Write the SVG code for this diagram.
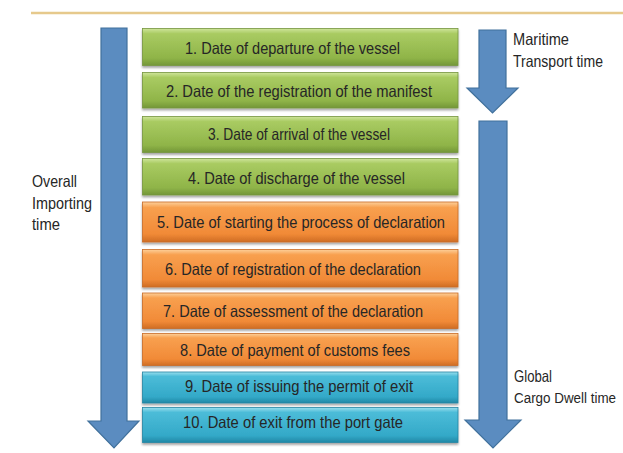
<svg xmlns="http://www.w3.org/2000/svg" width="623" height="453" viewBox="0 0 623 453">
<style>
.box-text{font-family:"Liberation Sans",Arial,sans-serif;font-size:16.5px;fill:#262626;text-anchor:start}
.side{font-family:"Liberation Sans",Arial,sans-serif;font-size:16.5px;fill:#262626}
.arrow{fill:#5b8cc0;stroke:#41719c;stroke-width:1.2}
.green{fill:url(#gGreen);stroke:#76963f;stroke-width:0.8;filter:url(#sh)}
.orange{fill:url(#gOrange);stroke:#c86c26;stroke-width:0.8;filter:url(#sh)}
.blue{fill:url(#gBlue);stroke:#2585a3;stroke-width:0.8;filter:url(#sh)}
</style>
<defs>
<linearGradient id="gGreen" x1="0" y1="0" x2="0" y2="1">
<stop offset="0" stop-color="#cfe59b"/>
<stop offset="0.14" stop-color="#a9cb62"/>
<stop offset="0.8" stop-color="#8fb448"/>
<stop offset="1" stop-color="#739638"/>
</linearGradient>
<linearGradient id="gOrange" x1="0" y1="0" x2="0" y2="1">
<stop offset="0" stop-color="#fdd09a"/>
<stop offset="0.14" stop-color="#f8a04f"/>
<stop offset="0.8" stop-color="#f18a37"/>
<stop offset="1" stop-color="#cf6d24"/>
</linearGradient>
<linearGradient id="gBlue" x1="0" y1="0" x2="0" y2="1">
<stop offset="0" stop-color="#9adfee"/>
<stop offset="0.14" stop-color="#4cbcd8"/>
<stop offset="0.8" stop-color="#33a9c8"/>
<stop offset="1" stop-color="#2188a6"/>
</linearGradient>
<filter id="sh" x="-5%" y="-20%" width="110%" height="150%">
<feDropShadow dx="0" dy="2" stdDeviation="1.3" flood-color="#000" flood-opacity="0.35"/>
</filter>
</defs>
<rect width="623" height="453" fill="#ffffff"/>
<line x1="31" y1="13" x2="623" y2="13" stroke="#e6c98c" stroke-width="2.5"/>

<g id="connectors">
<polygon class="arrow" points="101,28 127,28 127,421 139,421 114,448 88,421 101,421"/>
<polygon class="arrow" points="479,30 506,30 506,88 518,88 492.5,113 467,88 479,88"/>
<polygon class="arrow" points="479,121 507,121 507,420 521,420 493,448 465,420 479,420"/>
</g>

<g id="node1"><rect class="green" x="142.5" y="28.5" width="315.5" height="37"/><text class="box-text" x="185" y="54" textLength="215" lengthAdjust="spacingAndGlyphs">1. Date of departure of the vessel</text></g>
<g id="node2"><rect class="green" x="142.5" y="72.5" width="315.5" height="35.5"/><text class="box-text" x="166" y="97" textLength="266" lengthAdjust="spacingAndGlyphs">2. Date of the registration of the manifest</text></g>
<g id="node3"><rect class="green" x="142.5" y="116.5" width="315.5" height="36"/><text class="box-text" x="208" y="140" textLength="182" lengthAdjust="spacingAndGlyphs">3. Date of arrival of the vessel</text></g>
<g id="node4"><rect class="green" x="142.5" y="158.5" width="315.5" height="36.5"/><text class="box-text" x="188" y="184" textLength="217" lengthAdjust="spacingAndGlyphs">4. Date of discharge of the vessel</text></g>
<g id="node5"><rect class="orange" x="142.5" y="202" width="315.5" height="40"/><text class="box-text" x="157" y="228" textLength="288" lengthAdjust="spacingAndGlyphs">5. Date of starting the process of declaration</text></g>
<g id="node6"><rect class="orange" x="142.5" y="249.5" width="315.5" height="37.5"/><text class="box-text" x="165" y="275" textLength="256" lengthAdjust="spacingAndGlyphs">6. Date of registration of the declaration</text></g>
<g id="node7"><rect class="orange" x="142.5" y="293" width="315.5" height="35.5"/><text class="box-text" x="163" y="317" textLength="260" lengthAdjust="spacingAndGlyphs">7. Date of assessment of the declaration</text></g>
<g id="node8"><rect class="orange" x="142.5" y="333.5" width="315.5" height="32"/><text class="box-text" x="180" y="356" textLength="230" lengthAdjust="spacingAndGlyphs">8. Date of payment of customs fees</text></g>
<g id="node9"><rect class="blue" x="142.5" y="372" width="315.5" height="31"/><text class="box-text" x="185" y="392" textLength="228" lengthAdjust="spacingAndGlyphs">9. Date of issuing the permit of exit</text></g>
<g id="node10"><rect class="blue" x="142.5" y="407.5" width="315.5" height="35"/><text class="box-text" x="183" y="428" textLength="220" lengthAdjust="spacingAndGlyphs">10. Date of exit from the port gate</text></g>

<g id="label-overall">
<text class="side" x="32" y="187" textLength="45" lengthAdjust="spacingAndGlyphs">Overall</text>
<text class="side" x="32" y="209" textLength="60" lengthAdjust="spacingAndGlyphs">Importing</text>
<text class="side" x="32" y="230" textLength="28" lengthAdjust="spacingAndGlyphs">time</text>
</g>
<g id="label-maritime">
<text class="side" x="513" y="45" textLength="56" lengthAdjust="spacingAndGlyphs">Maritime</text>
<text class="side" x="513" y="67" textLength="90" lengthAdjust="spacingAndGlyphs">Transport time</text>
</g>
<g id="label-global">
<text class="side" x="514" y="382" textLength="38" lengthAdjust="spacingAndGlyphs">Global</text>
<text class="side" x="514" y="403" font-size="14" style="font-size:14px" textLength="102" lengthAdjust="spacingAndGlyphs">Cargo Dwell time</text>
</g>
</svg>
